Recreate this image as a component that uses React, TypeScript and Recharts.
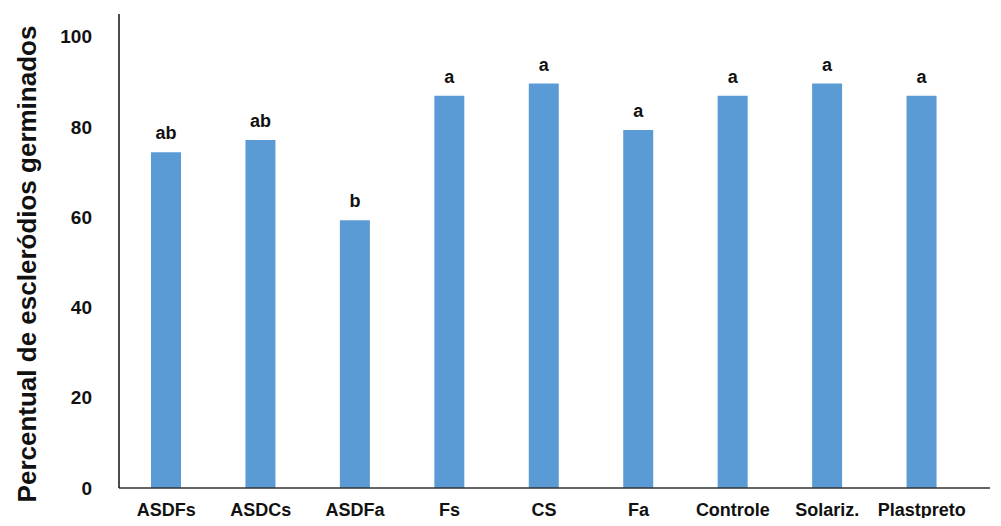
import { BarChart, Bar, XAxis, YAxis, LabelList } from 'recharts';

const treatments = ['ASDFs', 'ASDCs', 'ASDFa', 'Fs', 'CS', 'Fa', 'Controle', 'Solariz.', 'Plastpreto'];
const germinated = [74.4, 77.1, 59.3, 86.9, 89.6, 79.3, 86.9, 89.6, 86.9];
const letters = ['ab', 'ab', 'b', 'a', 'a', 'a', 'a', 'a', 'a'];
const yTicks = [0, 20, 40, 60, 80, 100];

const FONT = '"Liberation Sans", Arial, sans-serif';
const BAR_COLOR = '#5b9bd5';

const data = treatments.map((name, i) => ({
  name,
  value: germinated[i],
  letter: letters[i],
}));

function YTitle() {
  return (
    <text
      x={0}
      y={0}
      transform="translate(36, 264) rotate(-90)"
      textAnchor="middle"
      fontFamily={FONT}
      fontWeight="bold"
      fontSize={26}
      fill="#111"
    >
      Percentual de escleródios germinados
    </text>
  );
}

export default function App() {
  return (
    <div style={{ margin: -8, width: 1001, height: 526, background: '#fff' }}>
      <BarChart
        width={1001}
        height={526}
        data={data}
        margin={{ top: 14, right: 11, left: 0, bottom: 0 }}
      >
        <XAxis
          dataKey="name"
          height={38}
          padding={{ left: 0, right: 21 }}
          axisLine={{ stroke: '#333', strokeWidth: 1.5 }}
          tickLine={false}
          tickMargin={9}
          tick={{ fontFamily: FONT, fontWeight: 'bold', fontSize: 18, fill: '#111' }}
          interval={0}
        />
        <YAxis
          width={119}
          domain={[0, 105]}
          ticks={yTicks}
          axisLine={{ stroke: '#111', strokeWidth: 1.5 }}
          tickLine={false}
          tickMargin={21}
          tick={{ fontFamily: FONT, fontWeight: 'bold', fontSize: 19, fill: '#111' }}
          label={<YTitle />}
        />
        <Bar dataKey="value" fill={BAR_COLOR} barSize={30} isAnimationActive={false}>
          <LabelList
            dataKey="letter"
            position="top"
            offset={13}
            style={{ fontFamily: FONT, fontWeight: 'bold', fontSize: 18, fill: '#111' }}
          />
        </Bar>
      </BarChart>
    </div>
  );
}
